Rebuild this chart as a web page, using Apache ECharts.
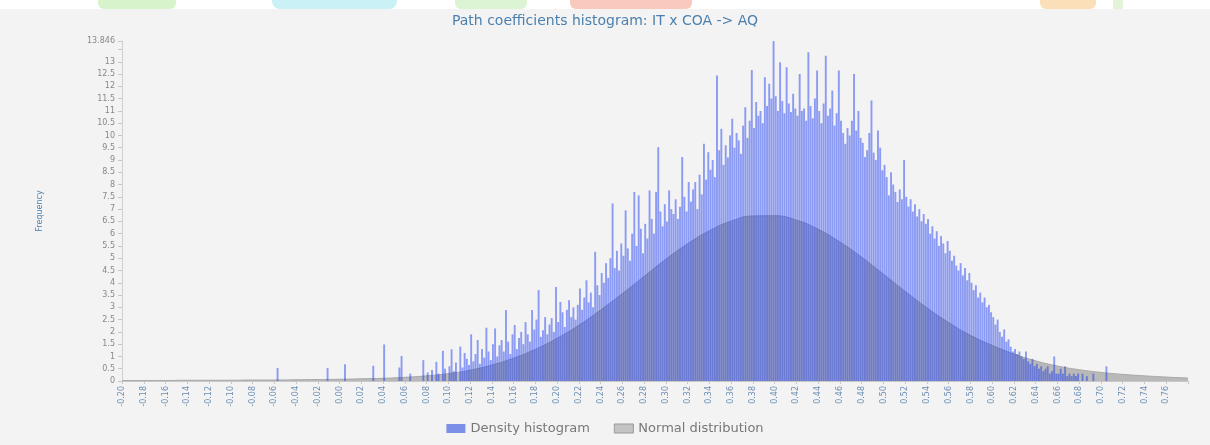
<!DOCTYPE html>
<html>
<head>
<meta charset="utf-8">
<script src="https://cdn.jsdelivr.net/npm/echarts@6/dist/echarts.min.js"></script>
<style>
html,body{margin:0;padding:0;background:#ffffff;}
#chart{width:1210px;height:445px;}
</style>
</head>
<body>
<div id="chart"></div>
<script>
// ---- data ----
const titleText = 'Path coefficients histogram: IT x COA -> AQ';
const seriesNames = ['Density histogram', 'Normal distribution'];
const yMax = 13.846;
// x tick labels, one every 10 bins
const xTickLabels = ['-0.20','-0.18','-0.16','-0.14','-0.12','-0.10','-0.08','-0.06','-0.04','-0.02',
  '0.00','0.02','0.04','0.06','0.08','0.10','0.12','0.14','0.16','0.18',
  '0.20','0.22','0.24','0.26','0.28','0.30','0.32','0.34','0.36','0.38',
  '0.40','0.42','0.44','0.46','0.48','0.50','0.52','0.54','0.56','0.58',
  '0.60','0.62','0.64','0.66','0.68','0.70','0.72','0.74','0.76'];
// histogram frequencies per bin (490 bins)
const histogram = [
  0,0,0,0,0,0,0,0,0,0,
  0,0,0,0,0,0,0,0,0,0,
  0,0,0,0,0,0,0,0,0,0,
  0,0,0,0,0,0,0,0,0,0,
  0,0,0,0,0,0,0,0,0,0,
  0,0,0,0,0,0,0,0,0,0,
  0,0,0,0,0,0,0,0,0,0,
  0,0.53,0,0,0,0,0,0,0,0,
  0,0,0,0,0,0,0,0,0,0,
  0,0,0,0,0.53,0,0,0,0,0,
  0,0,0.68,0,0,0,0,0,0,0,
  0,0,0,0,0,0.62,0,0,0,0,
  1.49,0,0,0,0,0,0,0.55,1.02,0,
  0,0,0.3,0,0,0,0,0,0.85,0,
  0.35,0,0.45,0,0.78,0.3,0,1.23,0.5,0,
  0.6,1.29,0.4,0.75,0,1.4,0.55,1.14,0.9,0.65,
  1.9,0.8,1.1,1.67,0.7,1.3,0.95,2.17,1.2,0.85,
  1.5,2.14,1.0,1.45,1.67,1.2,2.89,1.6,1.1,1.9,
  2.28,1.3,1.75,2.0,1.5,2.4,1.9,1.6,2.89,2.1,
  2.5,3.7,1.8,2.07,2.6,1.9,2.3,2.56,2.0,3.83,
  2.4,3.22,2.8,2.2,2.9,3.29,2.6,3.0,2.5,3.1,
  3.77,2.9,3.4,4.1,3.2,3.6,3.0,5.26,3.9,3.5,
  4.4,4.0,4.8,4.2,5.0,7.23,4.6,5.3,4.5,5.6,
  5.1,6.95,5.4,4.9,6.0,7.7,5.5,7.56,6.2,5.2,
  6.4,5.8,7.76,6.6,6.0,7.7,9.52,6.9,6.3,7.2,
  6.5,7.76,7.0,6.8,7.4,6.6,7.1,9.12,7.5,6.9,
  8.1,7.3,7.8,8.1,7.0,8.4,7.6,9.66,8.2,9.32,
  8.6,9.0,8.3,12.44,9.4,10.27,8.8,9.6,9.1,10.0,
  10.68,9.5,10.1,9.8,9.25,10.4,11.15,9.9,10.6,12.67,
  10.3,11.36,10.8,11.0,10.5,12.37,11.2,12.1,11.5,13.846,
  11.6,11.0,12.98,11.4,10.9,12.78,11.3,10.95,11.7,11.1,
  10.8,12.5,11.0,11.1,10.6,13.39,11.2,10.7,11.5,12.64,
  11.0,10.5,11.3,13.25,10.8,11.1,11.83,10.4,10.9,12.64,
  10.6,10.1,9.66,10.3,10.0,10.6,12.5,10.2,11.0,9.9,
  9.7,9.12,9.4,10.1,11.42,9.3,9.0,10.2,9.5,8.58,
  8.8,8.3,7.56,8.5,8.0,7.7,7.29,7.8,7.4,9.0,
  7.5,7.1,7.4,6.9,7.2,6.7,7.0,6.5,6.8,6.4,
  6.6,6.0,6.3,5.8,6.1,5.5,5.9,5.6,5.2,5.7,
  5.3,4.9,5.1,4.7,4.5,4.8,4.3,4.6,4.1,4.4,
  4.0,3.7,3.9,3.4,3.6,3.2,3.4,3.0,3.1,2.8,
  2.6,2.3,2.5,2.0,1.8,2.1,1.6,1.7,1.4,1.2,
  1.3,1.1,1.2,1.0,0.9,1.2,0.8,0.7,0.9,0.6,
  0.7,0.5,0.6,0.4,0.5,0.6,0.3,0.4,1.0,0.3,
  0.3,0.5,0.3,0.6,0.2,0.3,0.2,0.3,0.2,0.3,
  0,0.3,0,0.2,0,0,0.3,0,0,0,
  0,0,0.6,0,0,0,0,0,0,0,
  0,0,0,0,0,0,0,0,0,0,
  0,0,0,0,0,0,0,0,0,0,
  0,0,0,0,0,0,0,0,0,0
];
// normal curve read every 10 bins
const normalCurve = [0.02,0.02,0.02,0.03,0.03,0.03,0.04,0.04,0.05,0.06,
  0.07,0.09,0.11,0.15,0.21,0.30,0.44,0.65,0.93,1.29,
  1.74,2.27,2.89,3.56,4.26,4.96,5.59,6.12,6.51,6.72,
  6.73,6.55,6.18,5.66,5.04,4.35,3.65,2.98,2.38,1.86,
  1.45,1.10,0.82,0.61,0.46,0.35,0.27,0.21,0.16,0.12];

const binsPerTick = 10;
const nBins = histogram.length;

const chart = echarts.init(document.getElementById('chart'));
const font = 'DejaVu Sans, Verdana, sans-serif';
chart.setOption({
  backgroundColor: '#f3f3f3',
  animation: false,
  graphic: [
    {type:'rect', left:0, top:0, shape:{width:1210, height:9}, style:{fill:'#ffffff'}},
    {type:'rect', shape:{x:98, y:0, width:78, height:9, r:[0,0,6,6]}, style:{fill:'#d6f3cc'}},
    {type:'rect', shape:{x:272, y:0, width:125, height:9, r:[0,0,8,8]}, style:{fill:'#c9f1f6'}},
    {type:'rect', shape:{x:455, y:0, width:72, height:9, r:[0,0,6,6]}, style:{fill:'#dcf4d3'}},
    {type:'rect', shape:{x:570, y:0, width:122, height:9, r:[0,0,6,6]}, style:{fill:'#f8c9bc'}},
    {type:'rect', shape:{x:1040, y:0, width:56, height:9, r:[0,0,6,6]}, style:{fill:'#fadfb9'}},
    {type:'rect', shape:{x:1113, y:0, width:10, height:9}, style:{fill:'#e2f3d8'}}
  ],
  title: {
    text: titleText,
    left: 'center',
    top: 9,
    textStyle: {fontFamily: font, fontSize: 14, fontWeight: 'normal', color: '#4b80ae'}
  },
  legend: {
    bottom: 5,
    left: 'center',
    itemWidth: 19,
    itemHeight: 9,
    itemGap: 24,
    textStyle: {fontFamily: font, fontSize: 13, color: '#777'},
    data: [
      {name: seriesNames[0], icon: 'rect', itemStyle: {color: '#7b8ee8'}},
      {name: seriesNames[1], icon: 'rect', itemStyle: {color: '#c4c4c4', borderColor: '#999', borderWidth: 1}}
    ]
  },
  grid: {left: 122, right: 22, top: 41, bottom: 64},
  xAxis: {
    type: 'value',
    min: 0,
    max: nBins,
    interval: binsPerTick,
    axisLine: {show: true, lineStyle: {color: '#c8c8c8'}},
    axisTick: {show: true, length: 3, lineStyle: {color: '#c8c8c8'}},
    splitLine: {show: false},
    axisLabel: {
      rotate: 90,
      fontFamily: font,
      fontSize: 8,
      color: '#6a8db3',
      margin: 5,
      formatter: function (v) {
        const k = Math.round(v / binsPerTick);
        return xTickLabels[k] !== undefined ? xTickLabels[k] : '';
      }
    }
  },
  yAxis: {
    type: 'value',
    min: 0,
    max: yMax,
    interval: 0.5,
    name: 'Frequency',
    nameLocation: 'middle',
    nameGap: 78,
    nameRotate: 90,
    nameTextStyle: {fontFamily: font, fontSize: 8, color: '#4b80ae'},
    axisLine: {show: true, lineStyle: {color: '#d0d0d0'}},
    axisTick: {show: true, length: 4, lineStyle: {color: '#c8c8c8'}},
    splitLine: {show: false},
    axisLabel: {
      fontFamily: font,
      fontSize: 8,
      color: '#888',
      margin: 7,
      formatter: function (v) {
        if (v === 13.5) return '';
        return String(v);
      }
    }
  },
  series: [
    {
      name: seriesNames[1],
      type: 'line',
      smooth: true,
      symbol: 'none',
      z: 1,
      lineStyle: {color: '#a8a8a8', width: 1},
      itemStyle: {color: '#b9b9b9'},
      areaStyle: {color: '#b9b9b9', opacity: 1},
      data: normalCurve.map(function (v, i) { return [i * binsPerTick, v]; })
    },
    {
      name: seriesNames[0],
      type: 'bar',
      barWidth: 1.9,
      z: 2,
      itemStyle: {color: 'rgba(14,47,241,0.45)'},
      data: histogram.map(function (v, i) { return [i + 0.5, v]; })
    }
  ]
});
</script>
</body>
</html>
